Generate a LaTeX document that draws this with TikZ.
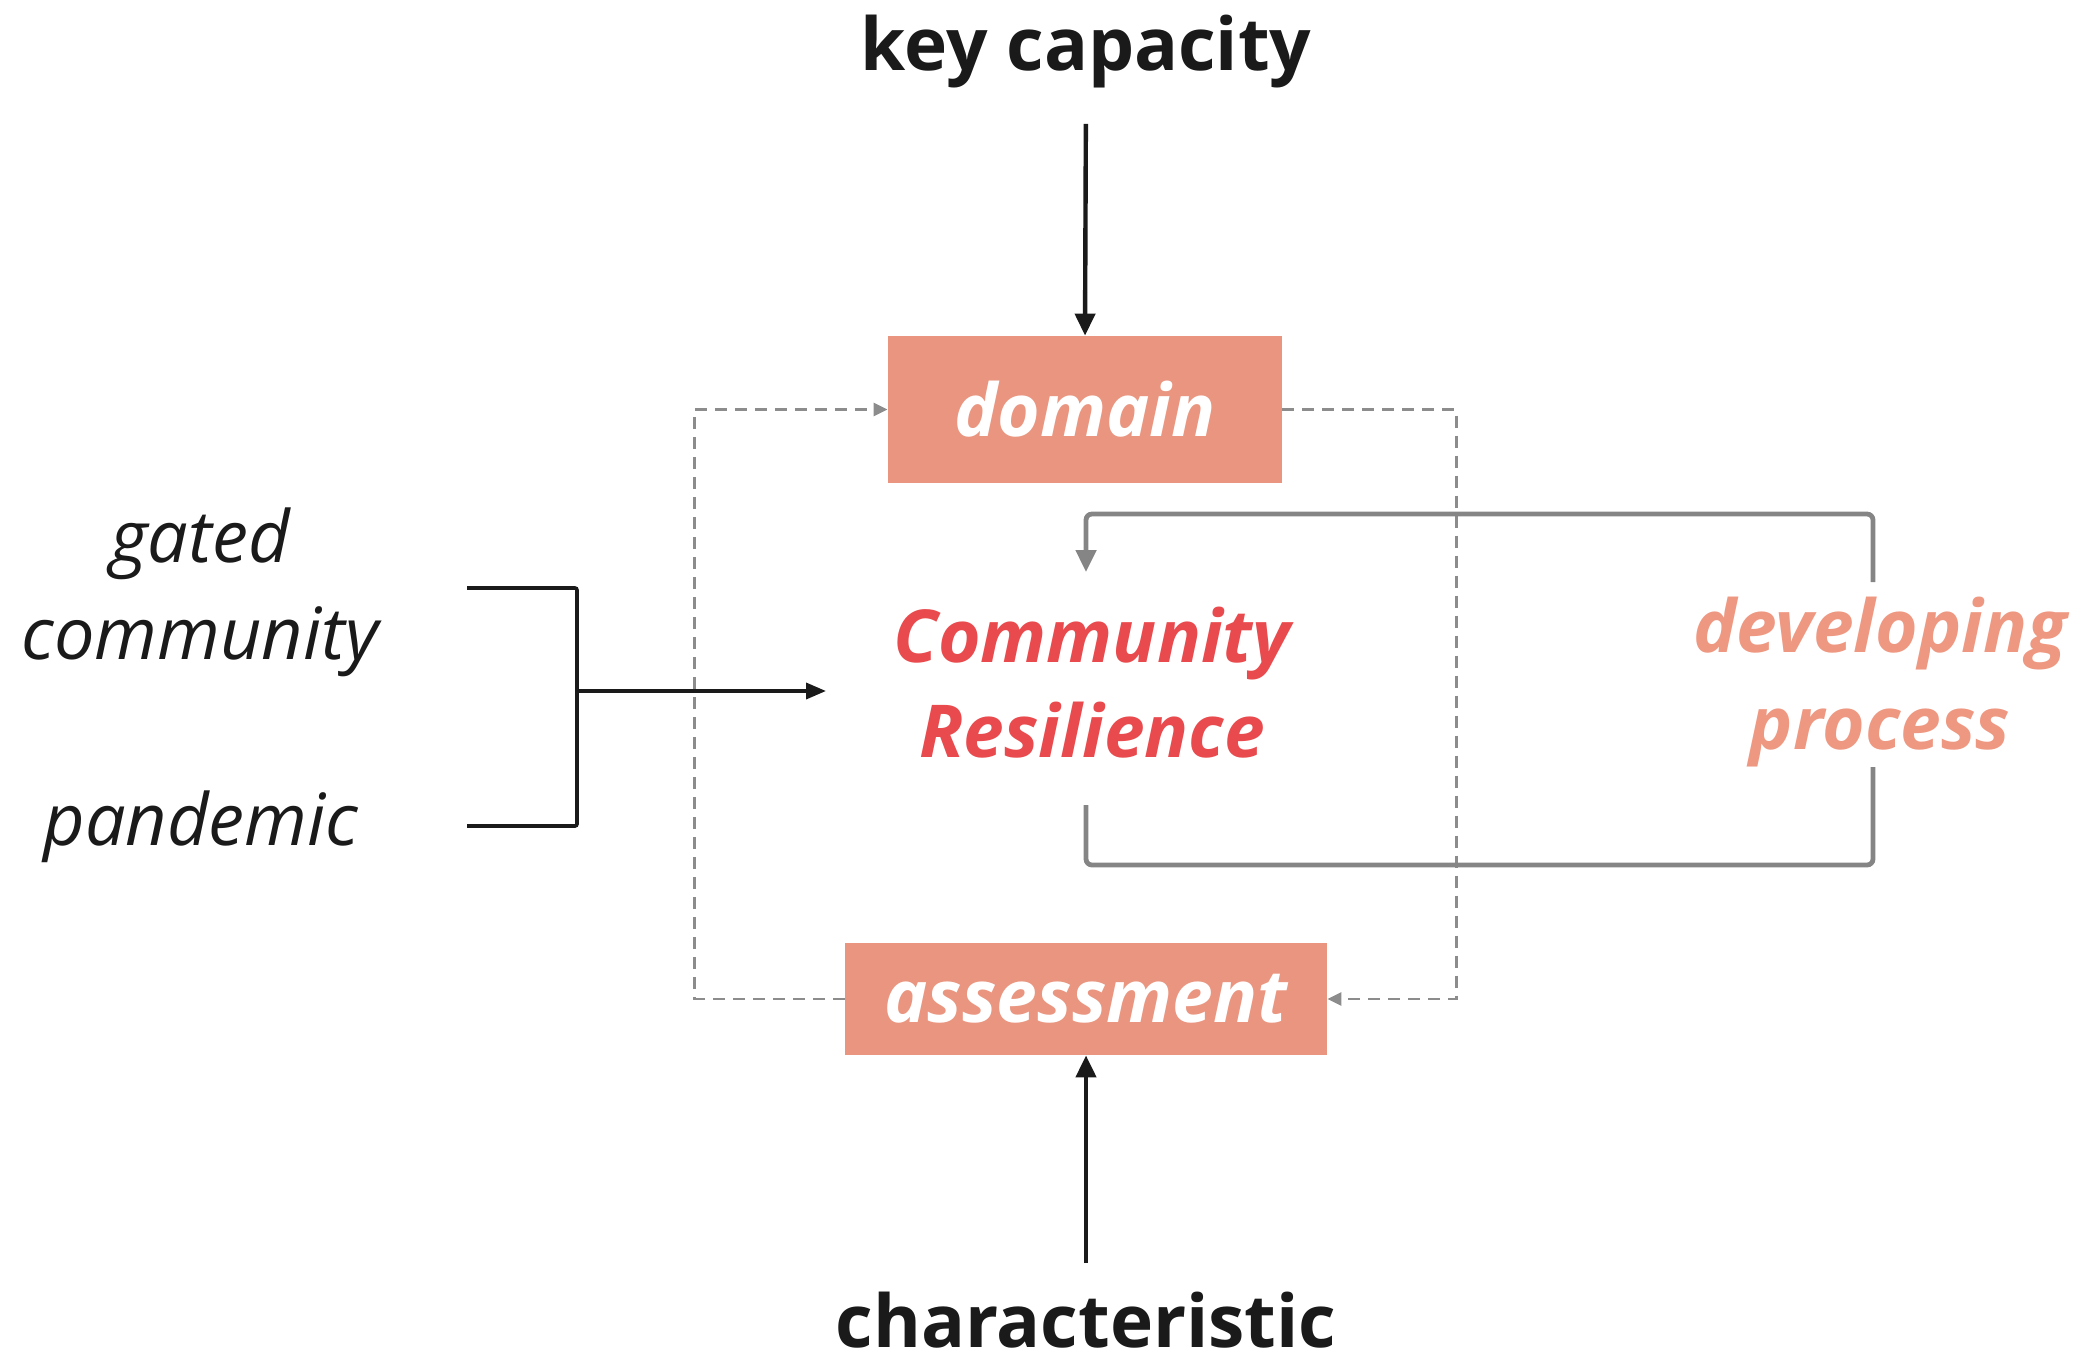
\documentclass[tikz,border=0pt]{standalone}
\usepackage{fontspec}
\setmainfont{Open Sans}
\usetikzlibrary{arrows.meta}
\definecolor{boxc}{HTML}{E9957F}
\definecolor{crred}{HTML}{E84A4D}
\definecolor{devc}{HTML}{EE9882}
\definecolor{lgray}{HTML}{858585}
\definecolor{dgray}{HTML}{8C8C8C}
\definecolor{ink}{HTML}{1A1A1A}
\begin{document}
\begin{tikzpicture}[x=0.5pt,y=-0.5pt,
  bigtxt/.style={font=\fontsize{36.5}{47.5}\selectfont, inner sep=0pt, align=center},
  boldtxt/.style={font=\fontsize{36.5}{47.5}\selectfont\bfseries, inner sep=0pt, align=center, text=ink},
  lighttxt/.style={font=\fontsize{36}{48.5}\selectfont\itshape, inner sep=0pt, align=center, text=ink},
  boxnode/.style={fill=boxc, text=white, font=\fontsize{36.5}{40}\selectfont\bfseries\itshape, inner sep=0pt},
  blkarrow/.style={draw=ink, line width=2.2pt, -{Triangle[length=11pt,width=10pt]}},
  blkline/.style={draw=ink, line width=1.8pt},
  grayloop/.style={draw=lgray, line width=2.4pt, rounded corners=3pt},
  dashloop/.style={draw=dgray, line width=1.4pt, dash pattern=on 6pt off 4pt},
  dashhead/.style={-{Triangle[length=7pt,width=6.5pt]}},
]
\useasboundingbox (0,0) rectangle (2076,1365);

\node[boldtxt, anchor=base] (kc) at (1086,70) {key capacity};
\node[boxnode, minimum width=197pt, minimum height=73.5pt] (domain) at (1085,409.5) {domain};
\node[boxnode, minimum width=241pt, minimum height=56pt] (assess) at (1086,999) {assessment};
\node[boldtxt, anchor=base] (char) at (1086,1347) {characteristic};

\node[bigtxt, font=\fontsize{36.5}{47.5}\selectfont\bfseries\itshape, text=crred, anchor=base] (cr) at (1092,757) {Community\\Resilience};
\node[bigtxt, font=\fontsize{36.5}{48.5}\selectfont\bfseries\itshape, text=devc, anchor=base] (dev) at (1880,749) {developing\\process};

\node[lighttxt, anchor=base] (gated) at (200,659) {gated\\community};
\node[lighttxt, anchor=base] (pand) at (201,845) {pandemic};

% black arrows
\draw[blkarrow, shorten <=18pt] (kc.south) -- (domain.north);
\draw[blkarrow, shorten <=14pt] (char.north) -- (assess.south);

% dashed feedback loop
\draw[dashloop, dashhead] (assess.west) -- ++(-150,0) |- (domain.west);
\draw[dashloop, dashhead] (domain.east) -- ++(174,0) |- (assess.east);

% gray developing loop
\coordinate (crtop) at (1086,572);
\coordinate (crbot) at (1086,805);
\coordinate (devtop) at (1873,582);
\coordinate (devbot) at (1873,767);
\draw[grayloop, -{Triangle[length=11pt,width=10pt]}] (devtop) |- (1086,514) -- (crtop);
\draw[grayloop] (crbot) |- (1873,865) -- (devbot);

% bracket
\coordinate (bt) at (467,588);
\coordinate (bb) at (467,826);
\coordinate (bm) at (577,691);
\coordinate (cin) at (826,691);
\draw[blkline, rounded corners=1pt] (bt) -| (bm |- bb) -- (bb);
\draw[blkline, -{Triangle[length=10pt,width=8pt]}] (bm) -- (cin);
\end{tikzpicture}
\end{document}
